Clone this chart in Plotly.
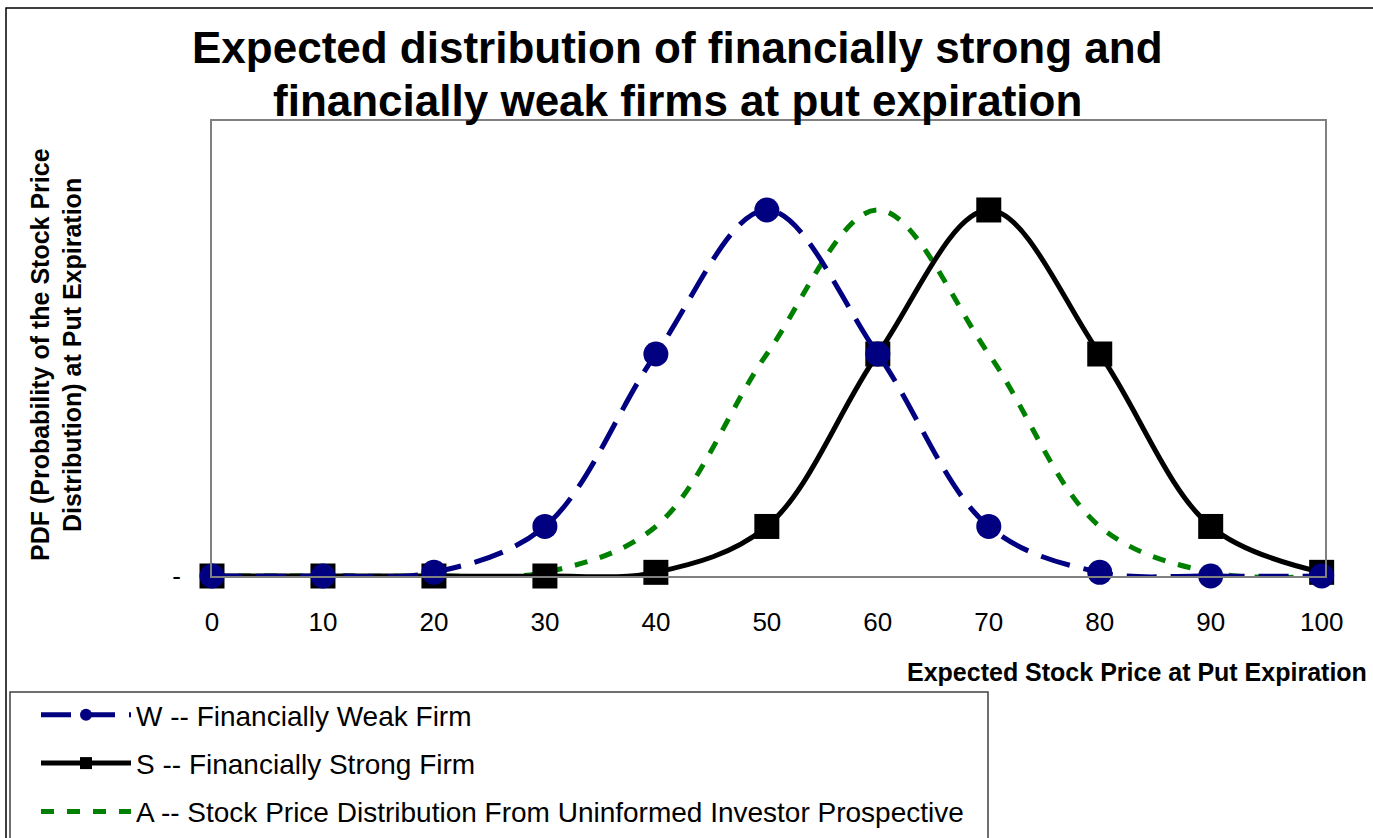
import plotly.graph_objects as go

# ---- data ----
prices = [0, 10, 20, 30, 40, 50, 60, 70, 80, 90, 100]
weak = [0.0000, 0.0000, 0.0004, 0.0054, 0.0242, 0.0399, 0.0242, 0.0054, 0.0004, 0.0000, 0.0000]
strong = [0.0000, 0.0000, 0.0000, 0.0000, 0.0004, 0.0054, 0.0242, 0.0399, 0.0242, 0.0054, 0.0004]
uninformed = [0.0000, 0.0000, 0.0000, 0.0004, 0.0054, 0.0242, 0.0399, 0.0242, 0.0054, 0.0004, 0.0000]
x_ticks = [0, 10, 20, 30, 40, 50, 60, 70, 80, 90, 100]
names = ["W -- Financially Weak Firm",
         "S -- Financially Strong Firm",
         "A -- Stock Price Distribution From Uninformed Investor Prospective"]
title_lines = ["Expected distribution of financially strong and",
               "financially weak firms at put expiration"]
ytitle_lines = ["PDF (Probability of the Stock Price", "Distribution) at Put Expiration"]
xtitle = "Expected Stock Price at Put Expiration"

W, H = 1373, 838
L, R, T, B = 212, 1325, 121, 576
FONT = "Liberation Sans, Arial, sans-serif"

def px(xp):
    return (xp - L) / (R - L)

def py(yp):
    return (B - yp) / (B - T)

fig = go.Figure()
fig.add_trace(go.Scatter(
    x=prices, y=uninformed, name=names[2], mode="lines", legendrank=3,
    line=dict(color="#008000", width=5, dash="13px,13px", shape="spline", smoothing=1.0),
    cliponaxis=False, legendgroup="a"))
fig.add_trace(go.Scatter(
    x=prices, y=strong, name=names[1], mode="lines+markers", legendrank=2,
    line=dict(color="#000000", width=5, shape="spline", smoothing=1.0),
    marker=dict(symbol="square", size=25, color="#000000"),
    cliponaxis=False, legendgroup="s"))
fig.add_trace(go.Scatter(
    x=prices, y=weak, name=names[0], mode="lines+markers", legendrank=1,
    line=dict(color="#000080", width=5, dash="30px,14px", shape="spline", smoothing=1.0),
    marker=dict(symbol="circle", size=25, color="#000080"),
    cliponaxis=False, legendgroup="w"))

fig.update_layout(
    width=W, height=H,
    margin=dict(l=L, r=W - R, t=T, b=H - B, autoexpand=False),
    paper_bgcolor="white", plot_bgcolor="white",
    font=dict(family=FONT, color="black"),
    showlegend=True,
    legend=dict(
        x=px(36), y=py(690), xanchor="left", yanchor="top",
        traceorder="grouped", tracegroupgap=9,
        font=dict(size=28, family=FONT), itemwidth=90,
        bgcolor="rgba(0,0,0,0)", borderwidth=0, itemsizing="constant"),
    xaxis=dict(range=[0, 100.3], tickvals=x_ticks, ticktext=[str(v) for v in x_ticks],
               showgrid=False, zeroline=False, showline=True, mirror=True,
               linecolor="#808080", linewidth=2, ticks="", ticklabelstandoff=22,
               tickfont=dict(size=26, family=FONT)),
    yaxis=dict(range=[0, 0.0496], tickvals=[0], ticktext=["-"],
               showgrid=False, zeroline=False, showline=True, mirror=True,
               linecolor="#808080", linewidth=2, ticks="", ticklabelstandoff=24,
               tickfont=dict(size=26, family=FONT)),
)

ann = []
ann.append(dict(text=title_lines[0], x=px(677), y=py(48), xref="paper", yref="paper",
                xanchor="center", yanchor="middle", showarrow=False,
                font=dict(size=44, family=FONT, weight="bold")))
ann.append(dict(text=title_lines[1], x=px(677), y=py(101), xref="paper", yref="paper",
                xanchor="center", yanchor="middle", showarrow=False,
                font=dict(size=44, family=FONT, weight="bold")))
ann.append(dict(text=ytitle_lines[0], textangle=-90,
                x=px(40), y=py(355), xref="paper", yref="paper", xanchor="center", yanchor="middle",
                showarrow=False, font=dict(size=25, family=FONT, weight="bold")))
ann.append(dict(text=ytitle_lines[1], textangle=-90,
                x=px(72), y=py(355), xref="paper", yref="paper", xanchor="center", yanchor="middle",
                showarrow=False, font=dict(size=25, family=FONT, weight="bold")))
ann.append(dict(text=xtitle,
                x=px(1369), y=py(672), xref="paper", yref="paper", xanchor="right", yanchor="middle",
                showarrow=False, font=dict(size=25, family=FONT, weight="bold")))
fig.update_layout(annotations=ann)

shapes = [
    # outer chart border
    dict(type="rect", xref="paper", yref="paper", x0=px(6), x1=px(1390), y0=py(8), y1=py(860),
         line=dict(color="#000000", width=1.5), fillcolor="rgba(0,0,0,0)", layer="below"),
    # legend box
    dict(type="rect", xref="paper", yref="paper", x0=px(10), x1=px(988), y0=py(692), y1=py(860),
         line=dict(color="#404040", width=1.5), fillcolor="white", layer="below"),
]
fig.update_layout(shapes=shapes)

fig.write_html("out.html")
